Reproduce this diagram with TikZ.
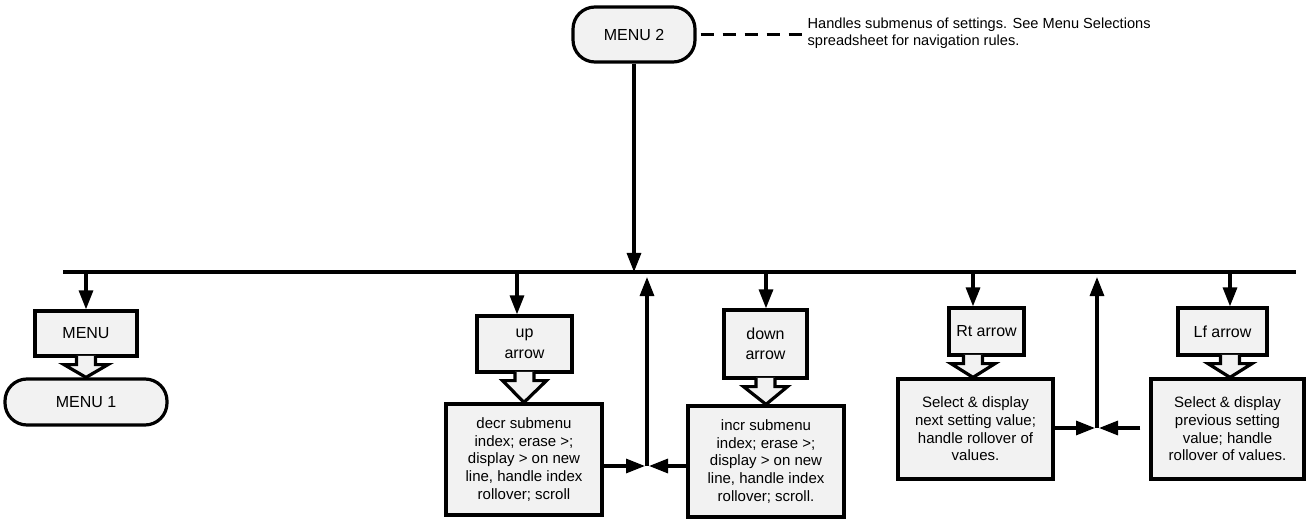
\documentclass[tikz,border=0pt]{standalone}
\usepackage{fontspec}
\setmainfont{Liberation Sans}
\usetikzlibrary{arrows.meta,calc}

% Hollow block arrow from a box bottom (#1, top centre) down to the next box (#2, tip)
\newcommand\blockarrow[2]{%
  \fill[boxfill] ($(#1)+(-9.5,-1.8)$) -- ($(#1)+(-9.5,7)$) -- ($(#1)+(-22,7)$) -- (#2)
    -- ($(#1)+(22,7)$) -- ($(#1)+(9.5,7)$) -- ($(#1)+(9.5,-1.8)$) -- cycle;
  \draw[line join=miter] ($(#1)+(-9.5,-1.6)$) -- ($(#1)+(-9.5,7)$) -- ($(#1)+(-22,7)$) -- (#2)
    -- ($(#1)+(22,7)$) -- ($(#1)+(9.5,7)$) -- ($(#1)+(9.5,-1.6)$);
}

\begin{document}
\begin{tikzpicture}[x=1pt,y=-1pt,line width=3.2pt,
  boxfill/.style={fill=black!5},
  stepbox/.style={draw,boxfill,rectangle,inner sep=0pt,align=center,
    font=\fontsize{15}{17.7}\selectfont},
  keybox/.style={stepbox,font=\fontsize{16}{20.5}\selectfont},
  terminal/.style={draw,boxfill,rounded corners=22pt,inner sep=0pt,
    font=\fontsize{16}{19}\selectfont},
  flow/.style={-{Triangle[length=19pt,width=14pt]}},
  note/.style={inner sep=0pt,align=left,font=\fontsize{14.6}{17.6}\selectfont},
]
\useasboundingbox[fill=white] (0,0) rectangle (1306,529);

% entry state and its note
\node[terminal,minimum width=122pt,minimum height=55pt] (menutwo) at (634,34.5) {MENU 2};
\node[note,anchor=north west] (info) at (806,16)
  {Handles submenus of settings. See Menu Selections\\spreadsheet for navigation rules.};
\draw[dash pattern=on 13pt off 9pt,shorten <=4pt,shorten >=3pt]
  (menutwo.east) -- (menutwo.east -| info.west);

% key handlers
\node[keybox,minimum width=102pt,minimum height=45pt] (menu) at (86,333.5) {MENU};
\node[terminal,minimum width=162pt,minimum height=46pt] (menuone) at (86,402) {MENU 1};

\node[keybox,minimum width=95pt,minimum height=56pt] (up) at (524.5,344) {up\\arrow};
\node[stepbox,minimum width=156pt,minimum height=111pt] (decr) at (524,459.5)
  {decr submenu\\index; erase >;\\display > on new\\line, handle index\\rollover; scroll};

\node[keybox,minimum width=83pt,minimum height=68pt] (down) at (765.5,344) {down\\arrow};
\node[stepbox,minimum width=156pt,minimum height=111pt] (incr) at (766,461.5)
  {incr submenu\\index; erase >;\\display > on new\\line, handle index\\rollover; scroll.};

\node[keybox,minimum width=75pt,minimum height=47pt] (rt) at (986.5,331.5) {Rt arrow};
\node[stepbox,minimum width=155pt,minimum height=100pt] (rtsel) at (975.5,429)
  {Select \& display\\next setting value;\\handle rollover of\\values.};

\node[keybox,minimum width=89pt,minimum height=47pt] (lf) at (1222.5,331.5) {Lf arrow};
\node[stepbox,minimum width=153pt,minimum height=100pt] (lfsel) at (1227.5,429)
  {Select \& display\\previous setting\\value; handle\\rollover of values.};

% event bus
\coordinate (busL) at (63,272);
\coordinate (busR) at (1296,272);
\draw[line width=3.2pt] (busL) -- (busR);

\coordinate (tmain) at (634,272);
\coordinate (tmenu) at (86,272);
\coordinate (tup) at (517,272);
\coordinate (tdown) at (766,272);
\coordinate (trt) at (973,272);
\coordinate (tlf) at (1230,272);

\draw[flow] (menutwo.south) -- (tmain);
\draw[flow] (tmenu) -- (tmenu |- menu.north);
\draw[flow] (tup) -- (tup |- up.north);
\draw[flow] (tdown) -- (tdown |- down.north);
\draw[flow] (trt) -- (trt |- rt.north);
\draw[flow] (tlf) -- (tlf |- lf.north);

% key box -> action
\blockarrow{menu.south}{menuone.north}
\blockarrow{up.south}{decr.north}
\blockarrow{down.south}{incr.north}
\blockarrow{trt |- rt.south}{trt |- rtsel.north}
\blockarrow{tlf |- lf.south}{tlf |- lfsel.north}

% return paths to the bus
\coordinate (ja) at (647,466);
\coordinate (jatop) at (647,272);
\draw[flow,shorten >=2pt] (ja -| decr.east) -- (ja);
\draw[flow,shorten >=2pt] (ja -| incr.west) -- (ja);
\draw[flow,shorten >=5pt] (ja) -- (jatop);

\coordinate (jb) at (1097,428);
\coordinate (jbtop) at (1097,272);
\draw[flow,shorten >=2pt] (jb -| rtsel.east) -- (jb);
\draw[flow,shorten >=2pt,shorten <=9pt] (jb -| lfsel.west) -- (jb);
\draw[flow,shorten >=5pt] (jb) -- (jbtop);
\end{tikzpicture}
\end{document}
